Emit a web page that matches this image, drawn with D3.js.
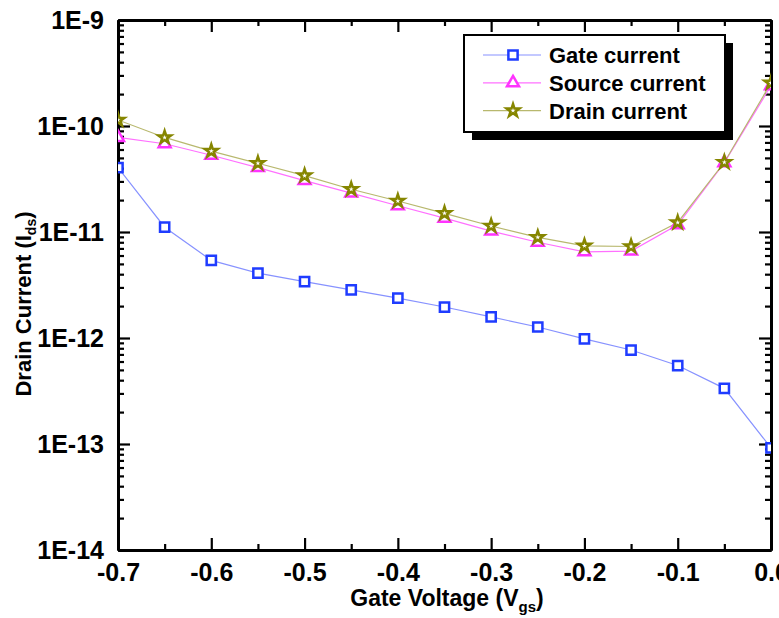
<!DOCTYPE html>
<html>
<head>
<meta charset="utf-8">
<script src="https://cdn.jsdelivr.net/npm/d3@7"></script>
<style>
  body { margin: 0; background: #fff; }
  svg text { font-family: "Liberation Sans", Arial, sans-serif; font-weight: bold; }
</style>
</head>
<body>
<script>
const voltages = [-0.7, -0.65, -0.6, -0.55, -0.5, -0.45, -0.4, -0.35, -0.3, -0.25, -0.2, -0.15, -0.1, -0.05, 0.0];
const gateCurrent = [4.05e-11, 1.11e-11, 5.4e-12, 4.1e-12, 3.4e-12, 2.84e-12, 2.38e-12, 1.96e-12, 1.58e-12, 1.27e-12, 9.8e-13, 7.7e-13, 5.5e-13, 3.35e-13, 9.2e-14];
const sourceCurrent = [7.8e-11, 6.8e-11, 5.3e-11, 4.05e-11, 3.05e-11, 2.33e-11, 1.77e-11, 1.35e-11, 1.02e-11, 8.0e-12, 6.5e-12, 6.6e-12, 1.17e-11, 4.5e-11, 2.4e-10];
const drainCurrent = [1.14e-10, 7.8e-11, 5.8e-11, 4.45e-11, 3.4e-11, 2.53e-11, 1.96e-11, 1.5e-11, 1.14e-11, 8.9e-12, 7.4e-12, 7.3e-12, 1.23e-11, 4.55e-11, 2.55e-10];
const seriesNames = ['Gate current', 'Source current', 'Drain current'];
const xTicks = [-0.7, -0.6, -0.5, -0.4, -0.3, -0.2, -0.1, 0.0];
const yTicks = [1e-14, 1e-13, 1e-12, 1e-11, 1e-10, 1e-9];

const width = 779, height = 618;
const plot = { left: 118, right: 771, top: 20, bottom: 550 };

const x = d3.scaleLinear().domain([-0.7, 0]).range([plot.left, plot.right]);
const y = d3.scaleLog().domain([1e-14, 1e-9]).range([plot.bottom, plot.top]);

const series = [
    { name: seriesNames[0], values: gateCurrent, symbol: d3.symbolSquare, size: 85, stroke: '#1f3cff', line: '#8792ff' },
    { name: seriesNames[1], values: sourceCurrent, symbol: d3.symbolTriangle, size: 62, stroke: '#ff33ff', line: '#ff70ff' },
    { name: seriesNames[2], values: drainCurrent, symbol: d3.symbolStar, size: 50, stroke: '#868600', line: '#b8b86e' }
];

const svg = d3.select('body').append('svg')
    .attr('width', width)
    .attr('height', height);

svg.append('defs').append('clipPath').attr('id', 'clip')
    .append('rect')
    .attr('x', plot.left).attr('y', plot.top)
    .attr('width', plot.right - plot.left).attr('height', plot.bottom - plot.top);

// minor tick values
const xMinor = d3.range(0, 15).map(i => -0.7 + i * 0.05).filter((d, i) => i % 2 === 1);
const yMinor = [];
for (let e = -14; e < -9; e++) {
    for (let m = 2; m <= 9; m++) yMinor.push(m * Math.pow(10, e));
}

function styleAxis(g) {
    g.attr('font-family', null);
    g.select('.domain').attr('stroke-width', 3).attr('stroke', '#000');
    g.selectAll('.tick line').attr('stroke-width', 2.2).attr('stroke', '#000');
    g.selectAll('.tick text').style('font-size', '25px').attr('fill', '#000');
}

// bottom axis
svg.append('g')
    .attr('transform', `translate(0, ${plot.bottom})`)
    .call(d3.axisBottom(x).tickValues(xMinor).tickSize(-6).tickFormat('').tickSizeOuter(0))
    .call(styleAxis);
svg.append('g')
    .attr('transform', `translate(0, ${plot.bottom})`)
    .call(d3.axisBottom(x).tickValues(xTicks).tickSize(-12).tickSizeOuter(0).tickPadding(14)
        .tickFormat(d => d3.format('.1f')(d).replace('\u2212', '-')))
    .call(styleAxis)
    .selectAll('.tick text').attr('dy', '0.68em');

// top axis
svg.append('g')
    .attr('transform', `translate(0, ${plot.top})`)
    .call(d3.axisTop(x).tickValues(xMinor).tickSize(-6).tickFormat('').tickSizeOuter(0))
    .call(styleAxis);
svg.append('g')
    .attr('transform', `translate(0, ${plot.top})`)
    .call(d3.axisTop(x).tickValues(xTicks).tickSize(-12).tickFormat('').tickSizeOuter(0))
    .call(styleAxis);

// left axis
svg.append('g')
    .attr('transform', `translate(${plot.left}, 0)`)
    .call(d3.axisLeft(y).tickValues(yMinor).tickSize(-6).tickFormat('').tickSizeOuter(0))
    .call(styleAxis);
svg.append('g')
    .attr('transform', `translate(${plot.left}, 0)`)
    .call(d3.axisLeft(y).tickValues(yTicks).tickSize(-12).tickSizeOuter(0).tickPadding(14)
        .tickFormat(d => '1E' + Math.round(Math.log10(d))))
    .call(styleAxis);

// right axis
svg.append('g')
    .attr('transform', `translate(${plot.right}, 0)`)
    .call(d3.axisRight(y).tickValues(yMinor).tickSize(-6).tickFormat('').tickSizeOuter(0))
    .call(styleAxis);
svg.append('g')
    .attr('transform', `translate(${plot.right}, 0)`)
    .call(d3.axisRight(y).tickValues(yTicks).tickSize(-12).tickFormat('').tickSizeOuter(0))
    .call(styleAxis);

// Series lines and markers
const plotArea = svg.append('g').attr('clip-path', 'url(#clip)');
const line = d3.line().x((d, i) => x(voltages[i])).y(d => y(d));

series.forEach(s => {
    plotArea.append('path')
        .datum(s.values)
        .attr('fill', 'none')
        .attr('stroke', s.line)
        .attr('stroke-width', 1.2)
        .attr('d', line);
});
series.forEach(s => {
    plotArea.selectAll(null)
        .data(s.values)
        .enter()
        .append('path')
        .attr('transform', (d, i) => `translate(${x(voltages[i])}, ${y(d)})`)
        .attr('d', d3.symbol().type(s.symbol).size(s.size))
        .attr('fill', '#fff')
        .attr('stroke', s.stroke)
        .attr('stroke-width', 2.5);
});

// Axis titles
svg.append('text')
    .attr('x', 447)
    .attr('y', 606)
    .attr('text-anchor', 'middle')
    .style('font-size', '23px')
    .html('Gate Voltage (V<tspan dy="6" font-size="15px">gs</tspan><tspan dy="-6">)</tspan>');

svg.append('text')
    .attr('transform', 'translate(31, 304) rotate(-90)')
    .attr('text-anchor', 'middle')
    .style('font-size', '22px')
    .html('Drain Current (I<tspan dy="5" font-size="14px">ds</tspan><tspan dy="-5">)</tspan>');

// Legend
const legend = { x: 464, y: 35, w: 261, h: 97 };
svg.append('rect')
    .attr('x', legend.x + 8).attr('y', legend.y + 8)
    .attr('width', legend.w).attr('height', legend.h)
    .attr('fill', '#000');
svg.append('rect')
    .attr('x', legend.x).attr('y', legend.y)
    .attr('width', legend.w).attr('height', legend.h)
    .attr('fill', '#fff')
    .attr('stroke', '#000')
    .attr('stroke-width', 2);

const rows = svg.selectAll('.legend-row')
    .data(series)
    .enter()
    .append('g')
    .attr('class', 'legend-row')
    .attr('transform', (d, i) => `translate(0, ${55 + i * 27.8})`);

rows.append('line')
    .attr('x1', 483).attr('x2', 541)
    .attr('stroke', d => d.line)
    .attr('stroke-width', 1.2);
rows.append('path')
    .attr('transform', 'translate(513, 0)')
    .attr('d', d => d3.symbol().type(d.symbol).size(d.size)())
    .attr('fill', '#fff')
    .attr('stroke', d => d.stroke)
    .attr('stroke-width', 2.5);
rows.append('text')
    .attr('x', 549)
    .attr('dy', '0.36em')
    .style('font-size', '22px')
    .text(d => d.name);
</script>
</body>
</html>
